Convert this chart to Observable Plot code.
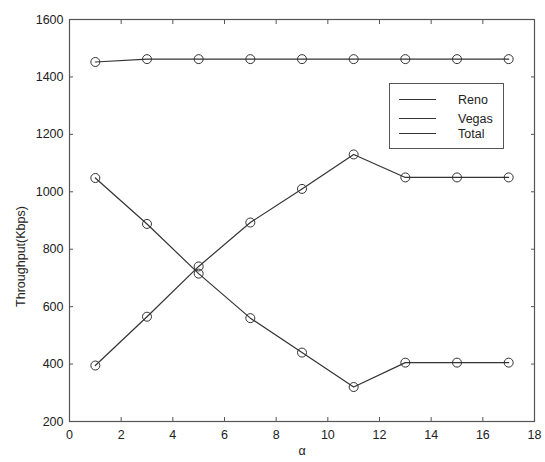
<!DOCTYPE html>
<html>
<head>
<meta charset="utf-8">
<script src="https://cdn.jsdelivr.net/npm/d3@7"></script>
<script src="https://cdn.jsdelivr.net/npm/@observablehq/plot@0.6"></script>
<style>
  html, body { margin: 0; padding: 0; background: #fff; }
  #wrap { position: relative; width: 545px; height: 462px; font-family: "Liberation Sans", Arial, sans-serif; }
  #legend { position: absolute; left: 389px; top: 83px; width: 115px; height: 66px; box-sizing: border-box;
            border: 1px solid #555; background: #fff; font-size: 12.5px; color: #222; }
  .row { position: absolute; left: 9px; height: 15px; display: flex; align-items: center; }
  .row .sw { width: 37px; height: 0; border-top: 1.3px solid #333; margin-right: 22px; }
</style>
</head>
<body>
<div id="wrap"></div>
<script>
const alpha = [1, 3, 5, 7, 9, 11, 13, 15, 17];
const reno  = [1048, 888, 715, 560, 440, 320, 405, 405, 405];
const vegas = [395, 565, 740, 893, 1010, 1130, 1050, 1050, 1050];
const total = [1452, 1462, 1462, 1462, 1462, 1462, 1462, 1462, 1462];
const seriesNames = ["Reno", "Vegas", "Total"];
const xTicks = [0, 2, 4, 6, 8, 10, 12, 14, 16, 18];
const yTicks = [200, 400, 600, 800, 1000, 1200, 1400, 1600];

const seriesValues = [reno, vegas, total];
const data = seriesNames.flatMap((name, i) =>
  alpha.map((a, j) => ({series: name, alpha: a, value: seriesValues[i][j]})));

const ink = "#333";
const fmt = (d) => String(d);
const chart = Plot.plot({
  width: 545,
  height: 462,
  marginLeft: 69,
  marginRight: 11,
  marginTop: 19,
  marginBottom: 41,
  style: {fontFamily: "'Liberation Sans', Arial, sans-serif", fontSize: "12.5px", color: "#222", background: "#fff"},
  x: {domain: [0, 18]},
  y: {domain: [200, 1600]},
  marks: [
    Plot.frame({stroke: "#555", strokeWidth: 1.2}),
    Plot.axisX({ticks: xTicks, tickSize: -4, tickPadding: 13, tickFormat: fmt, stroke: "#555", label: "α", labelArrow: "none", labelAnchor: "center", labelOffset: 33, fontSize: 12.5}),
    Plot.axisX({ticks: xTicks, anchor: "top", tickSize: -4, tickFormat: () => "", stroke: "#555", label: null}),
    Plot.axisY({ticks: yTicks, tickSize: -4, tickPadding: 10, tickFormat: fmt, stroke: "#555", label: "Throughput(Kbps)", labelArrow: "none", labelAnchor: "center", labelOffset: 53, fontSize: 12.5}),
    Plot.axisY({ticks: yTicks, anchor: "right", tickSize: -4, tickFormat: () => "", stroke: "#555", label: null}),
    Plot.line(data, {x: "alpha", y: "value", z: "series", stroke: ink, strokeWidth: 1.2}),
    Plot.dot(data, {x: "alpha", y: "value", r: 4.5, stroke: ink, strokeWidth: 1, fill: "none"})
  ]
});

const wrap = document.getElementById("wrap");
wrap.appendChild(chart);

// shift y-axis label down to match reference placement (keep Plot's own transform)
const yl = chart.querySelector('[aria-label="y-axis label"]');
if (yl) yl.setAttribute("transform", ((yl.getAttribute("transform") || "") + " translate(0,36)").trim());

// legend (inside the plot frame, as in the reference)
const legend = document.createElement("div");
legend.id = "legend";
seriesNames.forEach((name, i) => {
  const row = document.createElement("div");
  row.className = "row";
  row.style.top = [8, 27, 42][i] + "px";
  row.innerHTML = `<span class="sw"></span><span>${name}</span>`;
  legend.appendChild(row);
});
wrap.appendChild(legend);
</script>
</body>
</html>
